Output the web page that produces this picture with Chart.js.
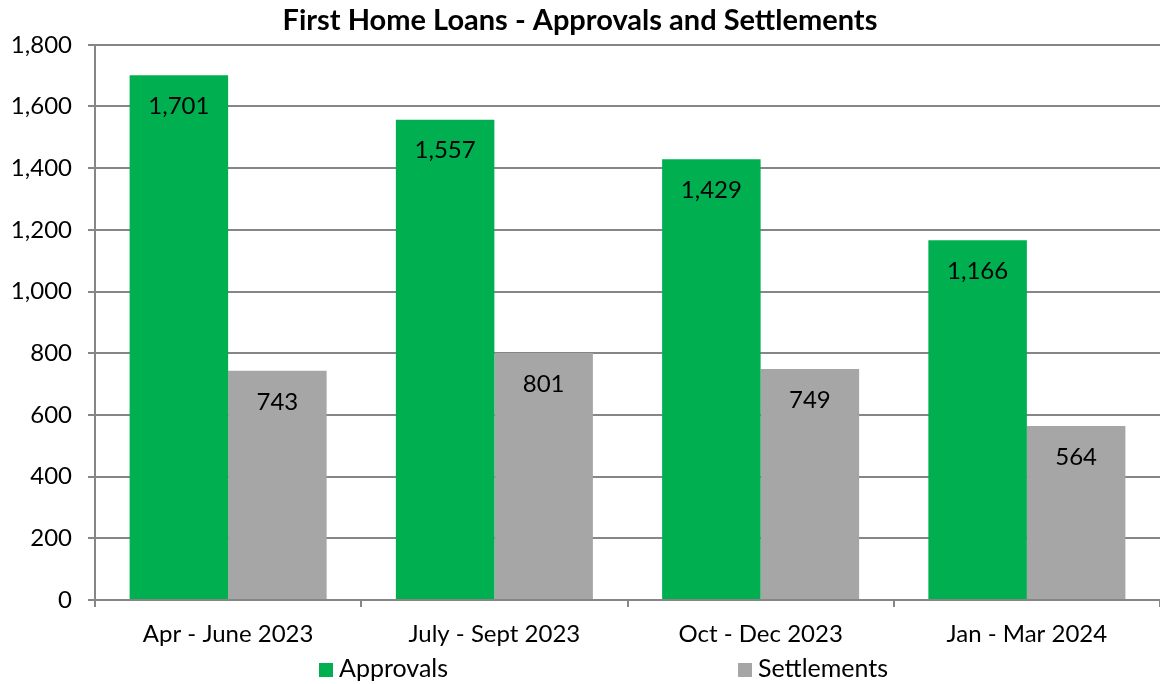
<!DOCTYPE html>
<html>
<head>
<meta charset="utf-8">
<script src="https://cdn.jsdelivr.net/npm/chart.js@4"></script>
<style>
  html, body { margin: 0; padding: 0; background: #fff; }
  #wrap { width: 1160px; height: 684px; }
</style>
</head>
<body>
<div id="wrap"><canvas id="loanChart"></canvas></div>
<script>
// data
const quarters = ['Apr - June 2023', 'July - Sept 2023', 'Oct - Dec 2023', 'Jan - Mar 2024'];
const approvals = [1701, 1557, 1429, 1166];
const settlements = [743, 801, 749, 564];
const yTicks = [0, 200, 400, 600, 800, 1000, 1200, 1400, 1600, 1800];

const FONT = 'Lato, "Open Sans", sans-serif';
const fmt = v => v.toLocaleString('en-US');

// value labels inside the top of each bar
const barLabels = {
  id: 'barLabels',
  afterDatasetsDraw(chart) {
    const ctx = chart.ctx;
    ctx.save();
    ctx.font = '24px ' + FONT;
    ctx.fillStyle = '#000';
    ctx.textAlign = 'center';
    ctx.textBaseline = 'middle';
    chart.data.datasets.forEach((ds, i) => {
      chart.getDatasetMeta(i).data.forEach((bar, j) => {
        ctx.fillText(fmt(ds.data[j]), bar.x, bar.y + 31);
      });
    });
    ctx.restore();
  }
};

// legend spread out under the chart like the original
const legendX = [319, 738];
const spreadLegend = {
  id: 'spreadLegend',
  afterDraw(chart) {
    const ctx = chart.ctx;
    const y = chart.height - 15;
    ctx.save();
    ctx.font = '25px ' + FONT;
    ctx.textBaseline = 'middle';
    chart.data.datasets.forEach((ds, i) => {
      const x = legendX[i];
      ctx.fillStyle = ds.backgroundColor;
      ctx.fillRect(x, y - 6, 14, 14);
      ctx.fillStyle = '#000';
      ctx.fillText(ds.label, x + 20, y);
    });
    ctx.restore();
  }
};

const ctx = document.getElementById('loanChart').getContext('2d');
const loanChart = new Chart(ctx, {
  type: 'bar',
  data: {
    labels: quarters,
    datasets: [
      { label: 'Approvals', data: approvals, backgroundColor: '#00B050' },
      { label: 'Settlements', data: settlements, backgroundColor: '#A6A6A6' }
    ]
  },
  options: {
    responsive: true,
    maintainAspectRatio: false,
    animation: false,
    categoryPercentage: 0.74,
    barPercentage: 1.0,
    layout: { padding: { left: 0, right: 0, top: 0, bottom: 34 } },
    plugins: {
      title: {
        display: true,
        text: 'First Home Loans - Approvals and Settlements',
        color: '#000',
        font: { family: FONT, size: 29, weight: 'bold' },
        padding: { top: 3, bottom: 7 }
      },
      legend: { display: false },
      tooltip: { enabled: false }
    },
    scales: {
      x: {
        afterFit: axis => { axis.height = 50; },
        grid: { display: true, drawOnChartArea: false, color: '#868686', lineWidth: 2, tickLength: 7, offset: true },
        border: { color: '#868686', width: 2 },
        ticks: { color: '#000', font: { family: FONT, size: 24 }, padding: 13, maxRotation: 0, autoSkip: false }
      },
      y: {
        min: 0,
        max: 1800,
        afterBuildTicks: axis => { axis.ticks = yTicks.map(v => ({ value: v })); },
        afterFit: axis => { axis.width = 95; },
        grid: { color: '#868686', lineWidth: 2, tickLength: 7 },
        border: { color: '#868686', width: 2 },
        ticks: { color: '#000', font: { family: FONT, size: 24 }, padding: 16, autoSkip: false, callback: v => fmt(v) }
      }
    }
  },
  plugins: [barLabels, spreadLegend]
});
</script>
</body>
</html>
